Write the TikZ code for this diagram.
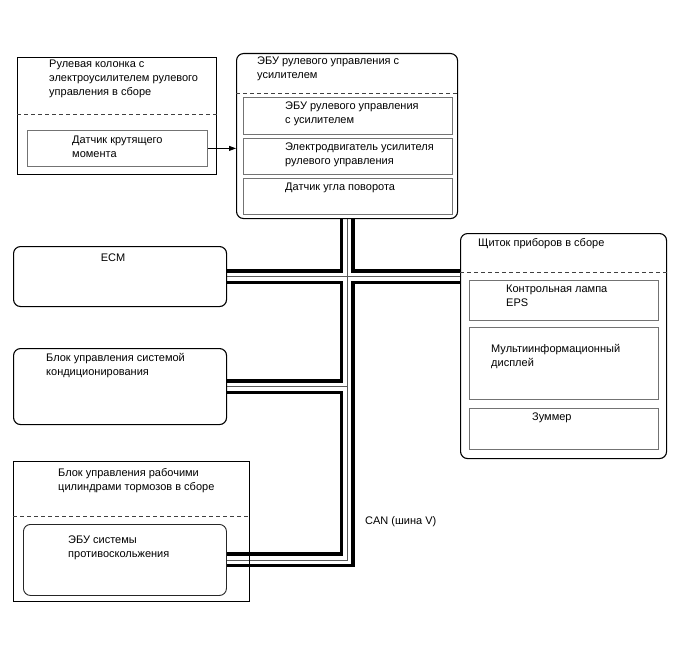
\documentclass[tikz,border=0pt]{standalone}
\usepackage{fontspec}
\setmainfont{Liberation Sans}
\usetikzlibrary{arrows.meta,backgrounds}

\newcommand\canbus[1]{%
  \draw[#1] (ecm.east) -- (ecm.east -| ipc.west)
    (acc.east) -- (acc.east -| eps.south)
    (abs.east) -- (abs.east -| eps.south) -- (eps.south);}

\begin{document}
\begin{tikzpicture}[
  x=1pt,y=-1pt,
  every node/.style={font=\fontsize{11}{14}\selectfont},
  unit/.style={draw=black,line width=1.1pt,anchor=north west,inner sep=0pt},
  module/.style={unit,rounded corners=7pt},
  part/.style={draw=black!55,line width=0.8pt,anchor=north west,inner sep=0pt},
  divider/.style={black!75,line width=0.8pt,dash pattern=on 4pt off 3pt},
  lbl/.style={anchor=north west,align=left,inner sep=0pt},
  wire/.style={-{Triangle[length=7pt,width=5pt]},line width=0.8pt},
  canout/.style={line width=15pt,black},
  canin/.style={line width=8pt,white},
  cancore/.style={line width=0.6pt,black!65}]

  \useasboundingbox (0,0) rectangle (688,658);

  \node[unit,minimum width=199pt,minimum height=117pt] (col) at (17,57) {};
  \draw[divider] (col.west |- 0,114) -- (col.east |- 0,114);
  \node[part,minimum width=180pt,minimum height=36pt] (torque) at (27,130) {};
  \node[lbl] (colT) at (49,60) {Рулевая колонка с\\электроусилителем рулевого\\управления в сборе};
  \node[lbl] (torqueT) at (72,136) {Датчик крутящего\\момента};

  \node[module,minimum width=221pt,minimum height=165pt] (eps) at (236,53) {};
  \draw[divider] (eps.west |- 0,93) -- (eps.east |- 0,93);
  \node[lbl] (epsT) at (257,57) {ЭБУ рулевого управления с\\усилителем};
  \foreach \i/\t/\b/\txt in {1/97/134/{ЭБУ рулевого управления\\с усилителем},
                             2/138/174/{Электродвигатель усилителя\\рулевого управления},
                             3/178/214/{Датчик угла поворота}}{
    \node[part,minimum width=209pt,minimum height={(\b-\t)*1pt}] (eps\i) at (243,\t) {};
    \node[lbl] (eps\i T) at (285,\t+5) {\txt};
  }

  \node[module,minimum width=206pt,minimum height=225pt] (ipc) at (460,233) {};
  \draw[divider] (ipc.west |- 0,272) -- (ipc.east |- 0,272);
  \node[lbl] (ipcT) at (478,238) {Щиток приборов в сборе};
  \foreach \i/\t/\b/\dx/\dy/\txt in {1/280/320/506/5/{Контрольная лампа\\EPS},
                                     2/327/399/491/17/{Мультиинформационный\\дисплей},
                                     3/408/449/532/5/{Зуммер}}{
    \node[part,minimum width=189pt,minimum height={(\b-\t)*1pt}] (ipc\i) at (469,\t) {};
    \node[lbl] (ipc\i T) at (\dx,\t+\dy) {\txt};
  }

  \node[module,minimum width=213pt,minimum height=60pt] (ecm) at (13,246) {};
  \node[lbl,anchor=north] (ecmT) at (113,254) {ECM};

  \node[module,minimum width=213pt,minimum height=76pt] (acc) at (13,348) {};
  \node[lbl] (accT) at (46,353) {Блок управления системой\\кондиционирования};

  \node[unit,minimum width=236pt,minimum height=140pt] (brake) at (13,461) {};
  \draw[divider] (brake.west |- 0,516) -- (brake.east |- 0,516);
  \node[lbl] (brakeT) at (58,468) {Блок управления рабочими\\цилиндрами тормозов в сборе};
  \node[module,draw=black!85,line width=0.9pt,minimum width=203pt,minimum height=71pt] (abs) at (23,524) {};
  \node[lbl] (absT) at (68,536) {ЭБУ системы\\противоскольжения};

  \node[lbl] (canT) at (365,516) {CAN (шина V)};

  \draw[wire] (torque.east) -- (torque.east -| eps.west);

  \begin{scope}[on background layer]
    \foreach \s in {canout,canin,cancore}{\canbus{\s}}
  \end{scope}
\end{tikzpicture}
\end{document}
